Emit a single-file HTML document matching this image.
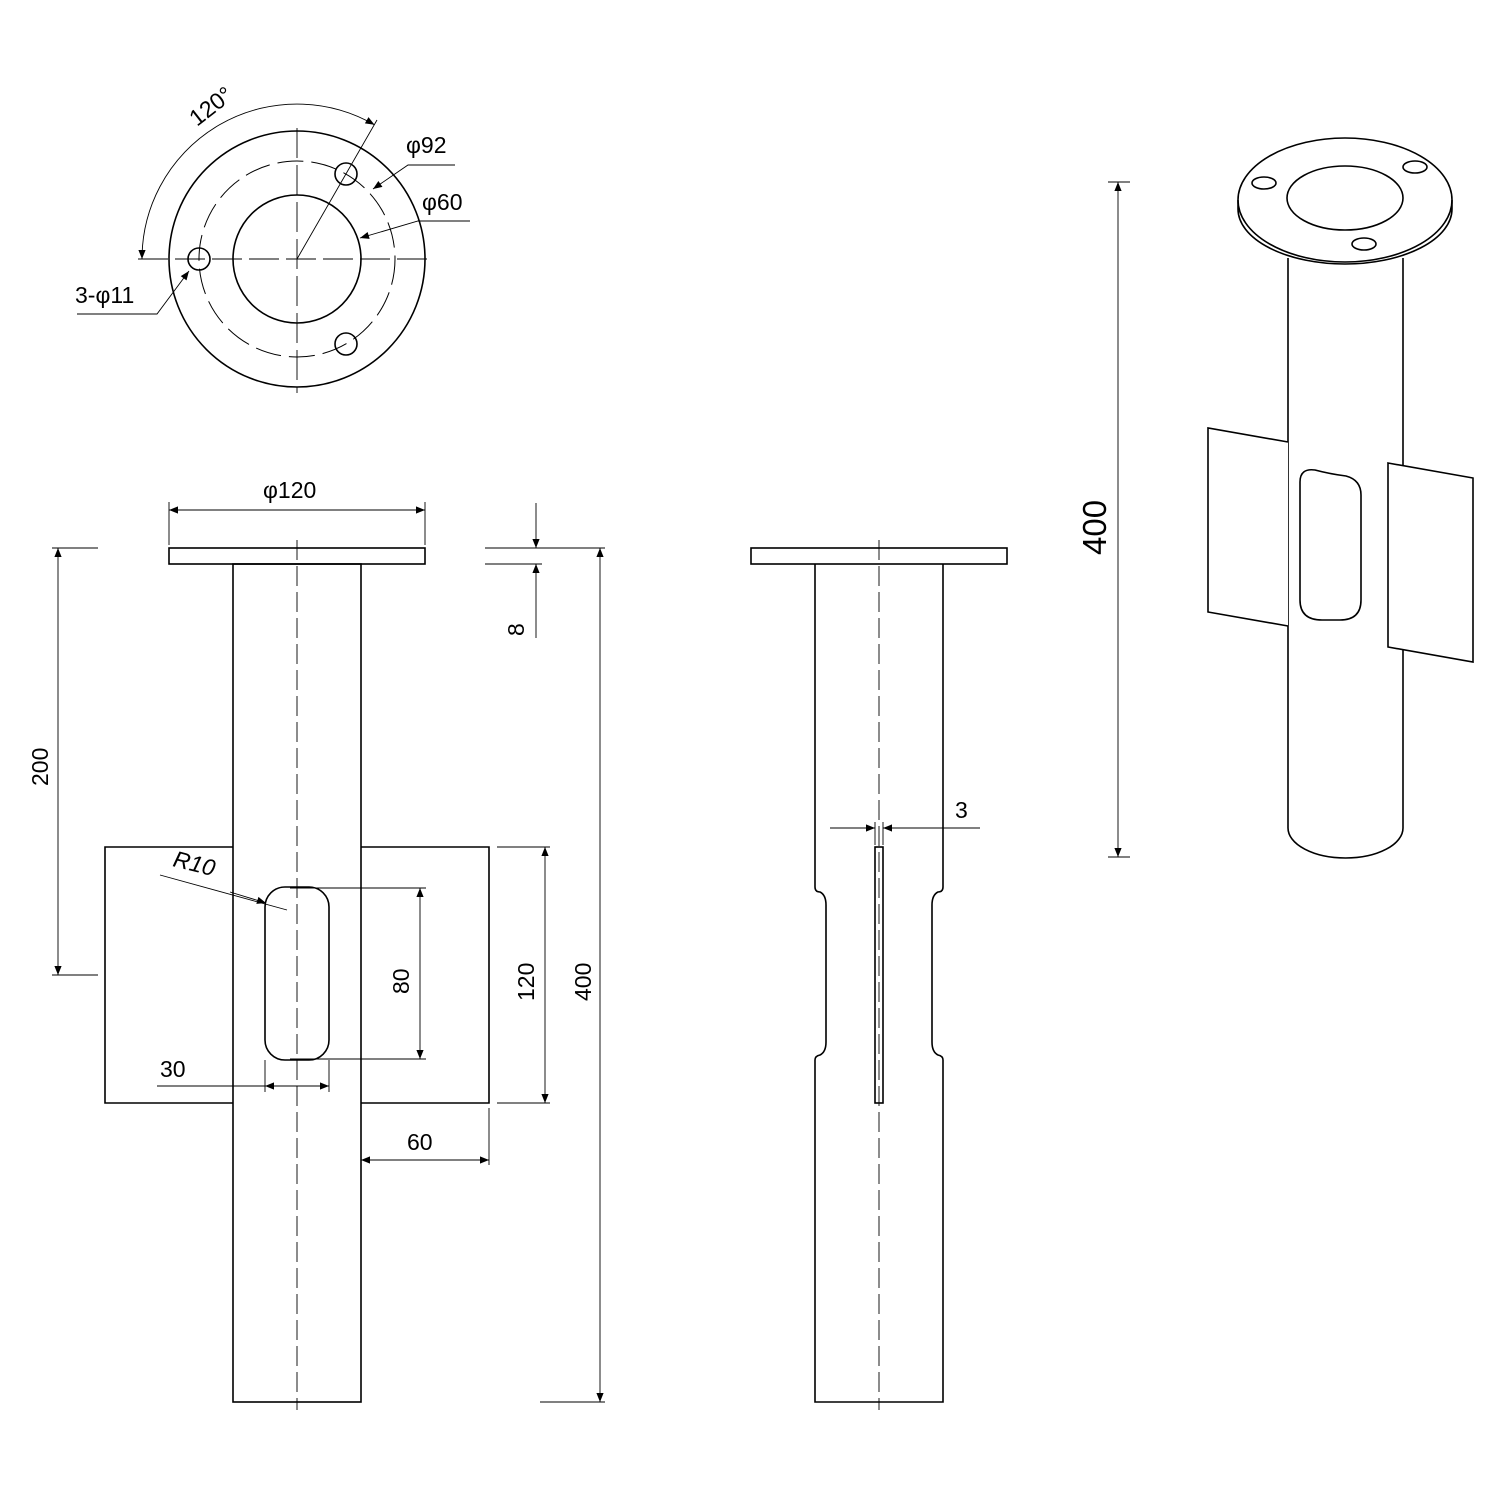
<!DOCTYPE html>
<html><head><meta charset="utf-8"><style>body{margin:0;background:#fff}svg{display:block}text{font-family:"Liberation Sans","DejaVu Sans",sans-serif;font-size:23px;fill:#000}</style></head><body>
<svg width="1500" height="1500" viewBox="0 0 1500 1500" xmlns="http://www.w3.org/2000/svg">
<defs><marker id="a" viewBox="0 0 10 10" refX="10" refY="5" markerWidth="20" markerHeight="9" markerUnits="userSpaceOnUse" orient="auto-start-reverse"><path d="M0,1 L10,5 L0,9z" fill="#000"/></marker></defs>
<g fill="none" stroke="#000" stroke-width="1.6">
<circle cx="297" cy="259" r="128"/>
<circle cx="297" cy="259" r="64"/>
<circle cx="297" cy="259" r="98" stroke-width="1" stroke-dasharray="26,8"/>
<circle cx="199" cy="259" r="11"/><circle cx="346" cy="174" r="11"/><circle cx="346" cy="344" r="11"/>
<g stroke-width="0.9">
<line x1="138" y1="259" x2="432" y2="259" stroke-dasharray="30,7"/>
<line x1="297" y1="128" x2="297" y2="393" stroke-dasharray="30,7"/>
<line x1="297" y1="259" x2="377" y2="120"/>
<path d="M374.5,124.8 A155,155 0 0 0 142,259" marker-start="url(#a)" marker-end="url(#a)"/>
<path d="M455,165 L408,165 L373,189" marker-end="url(#a)"/>
<path d="M470,221 L418,221 L360,238" marker-end="url(#a)"/>
<path d="M77,314 L157,314 L189,271" marker-end="url(#a)"/>
</g>
<rect x="169" y="548" width="256" height="16"/>
<rect x="233" y="564" width="128" height="838"/>
<path d="M233,847 H105 V1103 H233 M361,847 H489 V1103 H361"/>
<rect x="265" y="887" width="64" height="173" rx="20"/>
<g stroke-width="0.9">
<line x1="297" y1="540" x2="297" y2="1410" stroke-dasharray="20,6"/>
<line x1="169" y1="502" x2="169" y2="545"/><line x1="425" y1="502" x2="425" y2="545"/>
<line x1="169" y1="510" x2="425" y2="510" marker-start="url(#a)" marker-end="url(#a)"/>
<line x1="52" y1="548" x2="98" y2="548"/><line x1="52" y1="975" x2="98" y2="975"/>
<line x1="58" y1="548" x2="58" y2="975" marker-start="url(#a)" marker-end="url(#a)"/>
<line x1="485" y1="548" x2="605" y2="548"/><line x1="485" y1="564" x2="542" y2="564"/>
<line x1="536" y1="503" x2="536" y2="548" marker-end="url(#a)"/>
<line x1="536" y1="638" x2="536" y2="564" marker-end="url(#a)"/>
<line x1="540" y1="1402" x2="605" y2="1402"/>
<line x1="600" y1="548" x2="600" y2="1402" marker-start="url(#a)" marker-end="url(#a)"/>
<line x1="497" y1="847" x2="550" y2="847"/><line x1="497" y1="1103" x2="550" y2="1103"/>
<line x1="545" y1="847" x2="545" y2="1103" marker-start="url(#a)" marker-end="url(#a)"/>
<line x1="290" y1="888" x2="426" y2="888"/><line x1="290" y1="1059" x2="426" y2="1059"/>
<line x1="420" y1="888" x2="420" y2="1059" marker-start="url(#a)" marker-end="url(#a)"/>
<line x1="265" y1="1060" x2="265" y2="1092"/><line x1="329" y1="1060" x2="329" y2="1092"/>
<line x1="157" y1="1086" x2="265" y2="1086"/>
<line x1="297" y1="1086" x2="265" y2="1086" marker-end="url(#a)"/>
<line x1="297" y1="1086" x2="329" y2="1086" marker-end="url(#a)"/>
<line x1="489" y1="1108" x2="489" y2="1165"/>
<line x1="361" y1="1160" x2="489" y2="1160" marker-start="url(#a)" marker-end="url(#a)"/>
<line x1="160" y1="875" x2="287" y2="910"/>
<line x1="230" y1="892" x2="266" y2="903" marker-end="url(#a)"/>
</g>
<rect x="751" y="548" width="256" height="16"/>
<path d="M815,564 V887 Q815,892 820,892 Q826,895 826,905 V1042 Q826,1052 820,1055 Q815,1056 815,1060 V1402 H943 V1060 Q943,1056 938,1055 Q932,1052 932,1042 V905 Q932,895 938,892 Q943,892 943,887 V564"/>
<rect x="875" y="847" width="8" height="256"/>
<g stroke-width="0.9">
<line x1="879" y1="540" x2="879" y2="1410" stroke-dasharray="20,6"/>
<line x1="875" y1="822" x2="875" y2="845"/><line x1="883" y1="822" x2="883" y2="845"/>
<line x1="830" y1="828" x2="875" y2="828" marker-end="url(#a)"/>
<line x1="980" y1="828" x2="883" y2="828" marker-end="url(#a)"/>
<line x1="1108" y1="182" x2="1130" y2="182"/><line x1="1108" y1="857" x2="1130" y2="857"/>
<line x1="1118" y1="182" x2="1118" y2="857" marker-start="url(#a)" marker-end="url(#a)"/>
</g>
<path d="M1238,200 v9 A107,55 0 0 0 1452,209 v-9"/>
<ellipse cx="1345" cy="200" rx="107" ry="62"/>
<ellipse cx="1345" cy="198" rx="58" ry="32"/>
<ellipse cx="1264" cy="183" rx="12" ry="6"/><ellipse cx="1415" cy="167" rx="12" ry="6"/><ellipse cx="1364" cy="244" rx="12" ry="6"/>
<path d="M1288,258 V828 A57.5,30 0 0 0 1403,828 V258"/>
<path d="M1288,442 L1208,428 V612 L1288,626" fill="#fff"/>
<path d="M1388,463 L1473,478 V662 L1388,647 Z" fill="#fff"/>
<path d="M1300,482 Q1300,468 1315,470 Q1330,474 1346,476 Q1361,480 1361,495 V600 Q1361,620 1340,620 H1322 Q1300,620 1300,600 Z"/>
</g>
<text x="263" y="498">φ120</text>
<text x="406" y="153">φ92</text>
<text x="422" y="210">φ60</text>
<text x="75" y="303">3-φ11</text>
<text transform="translate(197,127) rotate(-38)">120°</text>
<text transform="translate(172,866) rotate(14)" font-style="italic">R10</text>
<text transform="translate(48,786) rotate(-90)">200</text>
<text transform="translate(524,636) rotate(-90)">8</text>
<text transform="translate(591,1001) rotate(-90)">400</text>
<text transform="translate(534,1001) rotate(-90)">120</text>
<text transform="translate(409,994) rotate(-90)">80</text>
<text x="160" y="1077">30</text>
<text x="407" y="1150">60</text>
<text x="955" y="818">3</text>
<text transform="translate(1106,555) rotate(-90)" style="font-size:33px">400</text>
</svg>
</body></html>
